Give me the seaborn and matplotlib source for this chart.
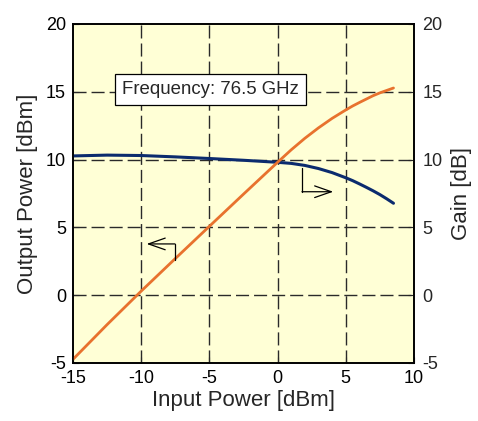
import matplotlib
matplotlib.use("Agg")
import matplotlib.pyplot as plt
import seaborn as sns
import pandas as pd

# Data
input_power = [-15, -12.5, -10, -7.5, -5, -2.5, 0, 1, 2, 3, 4, 5, 5.5, 6, 6.5, 7, 7.5, 8, 8.5]
output_power = [-4.73, -2.17, 0.3, 2.7, 5.08, 7.45, 9.8, 10.72, 11.57, 12.34, 13.04, 13.66,
                13.95, 14.21, 14.46, 14.71, 14.92, 15.1, 15.28]
gain = [10.27, 10.33, 10.3, 10.2, 10.08, 9.95, 9.8, 9.72, 9.57, 9.34, 9.04, 8.66,
        8.45, 8.21, 7.96, 7.70, 7.42, 7.11, 6.78]
x_ticks = [-15, -10, -5, 0, 5, 10]
y_ticks = [-5, 0, 5, 10, 15, 20]
annotation_text = "Frequency: 76.5 GHz"

df = pd.DataFrame({"input": input_power, "output": output_power, "gain": gain})

sns.set_style("ticks")
plt.rcParams["font.family"] = ["Liberation Sans", "DejaVu Sans"]
plt.rcParams["axes.unicode_minus"] = False

fig = plt.figure(figsize=(4.78, 4.21), dpi=100)
ax = fig.add_axes([0.1527, 0.1378, 0.866 - 0.1527, 0.943 - 0.1378])
ax.set_facecolor("#FFFFD6")

grid_kw = dict(color="#2a2a2a", linestyle=(0, (9.4, 3.6)), linewidth=1.0, zorder=1)
for xv in x_ticks[1:-1]:
    ax.axvline(xv, **grid_kw)
for yv in y_ticks[1:-1]:
    ax.axhline(yv, **grid_kw)

# gain drawn on the main axes (same scale as right axis), output on top
sns.lineplot(data=df, x="input", y="gain", ax=ax, color="#0B2B6E", linewidth=2.2, zorder=3)
sns.lineplot(data=df, x="input", y="output", ax=ax, color="#E8722E", linewidth=2.0, zorder=4)

ax.set_xlim(-15, 10)
ax.set_ylim(-5, 20)
ax.set_xticks(x_ticks)
ax.set_yticks(y_ticks)
ax.tick_params(direction="in", length=4, width=0.8, labelsize=13, pad=5, colors="black")
ax.set_xlabel("Input Power [dBm]", fontsize=16, labelpad=2)
ax.set_ylabel("Output Power [dBm]", fontsize=16, labelpad=6)
for s in ax.spines.values():
    s.set_linewidth(1.2)
    s.set_color("black")

ax2 = ax.twinx()
ax2.set_ylim(-5, 20)
ax2.set_yticks(y_ticks)
ax2.tick_params(direction="in", length=4, width=0.8, labelsize=13, pad=6)
ax2.set_ylabel("Gain [dB]", fontsize=16, labelpad=6)
for s in ax2.spines.values():
    s.set_linewidth(1.2)
    s.set_color("black")

# Pointer arrows
arrow_kw = dict(arrowstyle="->,head_length=1.0,head_width=0.35", color="black", lw=0.9,
                mutation_scale=12, shrinkA=0, shrinkB=0)
ax.plot([-7.52, -7.52], [2.6, 3.78], color="black", lw=0.9, zorder=5)
ax.annotate("", xy=(-9.6, 3.78), xytext=(-7.52, 3.78), arrowprops=arrow_kw, zorder=5)
ax.plot([1.79, 1.79], [9.4, 7.63], color="black", lw=0.9, zorder=5)
ax.annotate("", xy=(4.08, 7.63), xytext=(1.79, 7.63), arrowprops=arrow_kw, zorder=5)

ax.text(-4.92, 15.2, annotation_text, fontsize=13.4, ha="center", va="center", zorder=6,
        bbox=dict(boxstyle="square,pad=0.38", facecolor="white", edgecolor="black", linewidth=0.9))

fig.savefig("out.png", dpi=100)
